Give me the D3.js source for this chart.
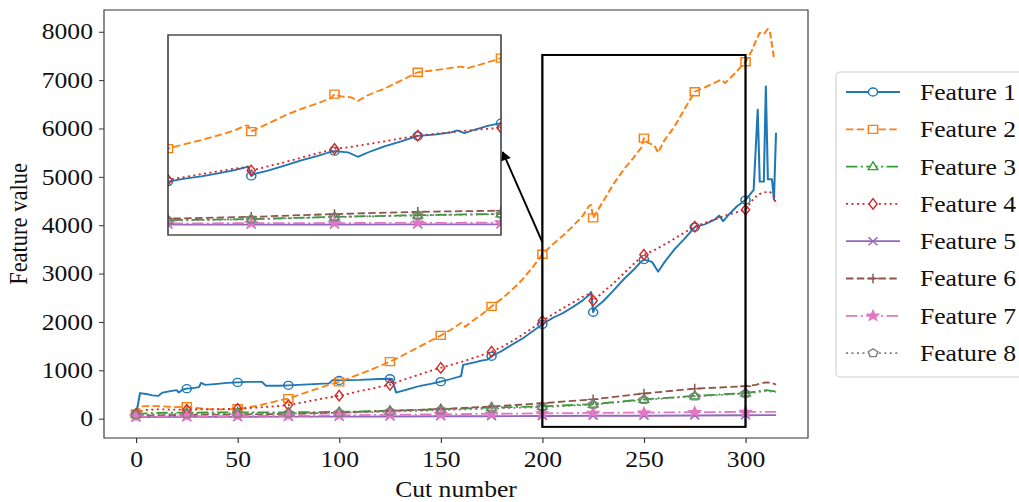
<!DOCTYPE html>
<html>
<head>
<meta charset="utf-8">
<script src="https://cdn.jsdelivr.net/npm/d3@7"></script>
<style>
  body { margin: 0; background: #fff; }
  svg { display: block; }
  text { font-family: "Liberation Serif", "Times New Roman", serif; }
</style>
</head>
<body>
<div id="chart"></div>
<script>
// Series values, as [cut number, feature value]
const feature1 = [[0,100],[1,300],[2,530],[5,510],[8,480],[11,470],[13,540],[17,570],[20,590],[21,540],[23,600],[25,620],[28,630],[31,650],[32,740],[34,700],[40,720],[45,740],[50,750],[55,760],[62,760],[64,680],[70,680],[75,690],[80,700],[85,710],[90,720],[95,730],[97,800],[100,790],[110,800],[120,820],[125,825],[126,820],[128,540],[135,620],[140,680],[145,720],[150,765],[155,820],[160,880],[161,1110],[165,1150],[170,1200],[173,1220],[175,1290],[180,1400],[185,1530],[190,1650],[195,1800],[200,1950],[205,2080],[210,2180],[215,2310],[220,2450],[223,2560],[224,2620],[225,2200],[226,2290],[230,2430],[235,2650],[240,2880],[245,3080],[248,3220],[250,3290],[254,3240],[257,3040],[260,3230],[265,3500],[270,3720],[275,3960],[280,4020],[285,4120],[287,4200],[289,4080],[292,4230],[296,4400],[300,4520],[304,4730],[306,6390],[307,4900],[309,4900],[310,6870],[311,4950],[313,4950],[314,4530],[315,5910]];
const feature2 = [[0,100],[2,250],[5,260],[10,260],[15,250],[20,240],[25,250],[30,220],[35,200],[40,190],[45,190],[50,205],[55,230],[60,270],[65,320],[70,370],[75,415],[80,490],[85,560],[90,630],[95,700],[100,760],[105,840],[110,920],[115,1000],[120,1090],[125,1180],[130,1280],[135,1390],[140,1500],[145,1610],[150,1720],[155,1840],[160,1980],[162,1900],[165,2000],[170,2150],[175,2320],[180,2480],[185,2660],[190,2870],[195,3120],[200,3400],[205,3600],[210,3780],[215,3980],[220,4200],[223,4400],[224,4420],[225,4150],[230,4500],[235,4850],[240,5150],[245,5400],[249,5620],[250,5800],[252,5700],[255,5660],[257,5500],[260,5750],[265,6040],[270,6400],[275,6760],[280,6850],[285,6950],[288,7010],[290,6940],[295,7150],[300,7380],[303,7600],[305,7800],[307,7980],[309,7950],[311,8060],[312,8000],[314,7460]];
const feature3 = [[0,100],[10,120],[25,125],[50,130],[75,130],[100,140],[125,165],[150,195],[175,230],[200,255],[225,300],[250,400],[275,470],[300,530],[310,590],[315,560]];
const feature4 = [[0,100],[2,150],[5,180],[10,190],[15,190],[20,185],[25,186],[30,190],[40,195],[50,205],[55,215],[60,230],[65,245],[70,260],[75,280],[80,320],[85,360],[90,400],[95,440],[100,475],[105,520],[110,570],[115,610],[120,660],[125,700],[130,780],[135,850],[140,920],[145,990],[150,1050],[155,1110],[160,1170],[165,1240],[170,1310],[175,1385],[180,1480],[185,1600],[190,1730],[195,1870],[200,2025],[205,2150],[210,2280],[215,2400],[220,2520],[224,2600],[225,2440],[230,2620],[235,2800],[240,3000],[245,3200],[250,3390],[255,3480],[260,3600],[265,3720],[270,3850],[275,3970],[280,4050],[285,4120],[290,4200],[295,4260],[300,4320],[303,4500],[306,4630],[309,4680],[312,4690],[314,4600],[315,4420]];
const feature5 = [[0,30],[25,35],[50,35],[75,40],[100,40],[125,45],[150,50],[175,50],[200,55],[225,60],[250,60],[275,65],[300,70],[315,75]];
const feature6 = [[0,60],[25,80],[50,85],[75,95],[100,125],[125,160],[150,200],[175,250],[200,320],[225,400],[250,520],[275,620],[300,670],[305,700],[310,750],[313,745],[315,700]];
const feature7 = [[0,40],[25,50],[50,55],[75,60],[100,70],[125,80],[150,90],[175,100],[200,110],[225,120],[250,125],[275,135],[300,140],[315,140]];
const feature8 = [[0,80],[25,100],[50,105],[75,110],[100,120],[125,145],[150,175],[175,210],[200,240],[225,290],[250,390],[275,460],[300,520],[310,570],[315,550]];

const seriesNames = ["Feature 1","Feature 2","Feature 3","Feature 4","Feature 5","Feature 6","Feature 7","Feature 8"];
const xTicks = [0, 50, 100, 150, 200, 250, 300];
const yTicks = [0, 1000, 2000, 3000, 4000, 5000, 6000, 7000, 8000];
const zoomX = [200, 300];       // region shown in the inset
const zoomY = [-170, 7520];     // rectangle drawn on the main plot
const markEvery = 25;

// styles
const colors = ["#1f77b4","#ff7f0e","#2ca02c","#d62728","#9467bd","#8c564b","#e377c2","#7f7f7f"];
const dashes = [null, "6.5,3", "10,3,1.8,3", "1.8,3", null, "6.5,3", "10,3,1.8,3", "1.8,3"];
const shapes = ["circle","square","triangle","diamond","x","plus","star","pentagon"];
const allSeries = [feature1, feature2, feature3, feature4, feature5, feature6, feature7, feature8];
const lw = 1.8, mr = 4;

// the picture is stretched a little horizontally
const S = 1.14, W = 1019, H = 502;
const svg = d3.select("#chart").append("svg")
  .attr("width", W).attr("height", H)
  .attr("viewBox", `0 0 ${W / S} ${H}`)
  .attr("preserveAspectRatio", "none");

const plot = { left: 104 / S, right: 808 / S, top: 10, bottom: 438 };
const x = d3.scaleLinear().domain([-15.75, 330.75]).range([plot.left, plot.right]);
const y = d3.scaleLinear().domain([-400, 8450]).range([plot.bottom, plot.top]);

const defs = svg.append("defs");
defs.append("clipPath").attr("id", "clip-main").append("rect")
  .attr("x", plot.left).attr("y", plot.top)
  .attr("width", plot.right - plot.left).attr("height", plot.bottom - plot.top);

function markerPath(shape, r) {
  switch (shape) {
    case "circle": return d3.symbol(d3.symbolCircle, Math.PI * r * r)();
    case "square": return `M${-r},${-r}H${r}V${r}H${-r}Z`;
    case "triangle": return `M0,${-r * 1.2}L${r * 1.05},${r * 0.75}L${-r * 1.05},${r * 0.75}Z`;
    case "diamond": return `M0,${-r * 1.3}L${r * 0.9},0L0,${r * 1.3}L${-r * 0.9},0Z`;
    case "x": return `M${-r},${-r}L${r},${r}M${-r},${r}L${r},${-r}`;
    case "plus": return `M${-r * 1.2},0H${r * 1.2}M0,${-r * 1.2}V${r * 1.2}`;
    case "star": {
      const pts = d3.range(10).map(i => {
        const a = -Math.PI / 2 + i * Math.PI / 5, rr = i % 2 ? r * 0.55 : r * 1.3;
        return [rr * Math.cos(a), rr * Math.sin(a)];
      });
      return "M" + pts.join("L") + "Z";
    }
    case "pentagon": {
      const pts = d3.range(5).map(i => {
        const a = -Math.PI / 2 + i * 2 * Math.PI / 5;
        return [r * 1.1 * Math.cos(a), r * 1.1 * Math.sin(a)];
      });
      return "M" + pts.join("L") + "Z";
    }
  }
}

function drawSeries(g, xs, ys, lo, hi) {
  const line = d3.line().x(d => xs(d[0])).y(d => ys(d[1]));
  allSeries.forEach((data, i) => {
    g.append("path")
      .datum(data)
      .attr("d", line)
      .attr("fill", "none")
      .attr("stroke", colors[i])
      .attr("stroke-width", lw)
      .attr("stroke-linejoin", "round")
      .attr("stroke-dasharray", dashes[i]);
  });
  allSeries.forEach((data, i) => {
    g.selectAll(null)
      .data(data.filter(d => d[0] % markEvery === 0 && d[0] >= lo && d[0] <= hi))
      .enter().append("path")
      .attr("transform", d => `translate(${xs(d[0])},${ys(d[1])})`)
      .attr("d", markerPath(shapes[i], mr))
      .attr("fill", shapes[i] === "star" ? colors[i] : "none")
      .attr("stroke", colors[i])
      .attr("stroke-width", 1.3);
  });
}

// main lines
const main = svg.append("g").attr("clip-path", "url(#clip-main)");
drawSeries(main, x, y, 0, 300);

// axes
const gx = svg.append("g")
  .attr("transform", `translate(0,${plot.bottom})`)
  .call(d3.axisBottom(x).tickValues(xTicks).tickSize(5).tickPadding(8).tickFormat(d3.format("d")));
gx.select(".domain").remove();
const gy = svg.append("g")
  .attr("transform", `translate(${plot.left},0)`)
  .call(d3.axisLeft(y).tickValues(yTicks).tickSize(5 / S).tickPadding(6 / S).tickFormat(d3.format("d")));
gy.select(".domain").remove();
[gx, gy].forEach(g => {
  g.attr("font-size", 22.5).attr("font-family", null).attr("color", "#111");
  g.selectAll("line").attr("stroke", "#333");
});

svg.append("rect")
  .attr("x", plot.left).attr("y", plot.top)
  .attr("width", plot.right - plot.left).attr("height", plot.bottom - plot.top)
  .attr("fill", "none").attr("stroke", "#333").attr("stroke-width", 1);

svg.append("text")
  .attr("x", (plot.left + plot.right) / 2).attr("y", 497)
  .attr("text-anchor", "middle").attr("font-size", 22.5).attr("fill", "#111")
  .text("Cut number");
svg.append("text")
  .attr("transform", `translate(${27 / S},${(plot.top + plot.bottom) / 2}) rotate(-90)`)
  .attr("text-anchor", "middle").attr("font-size", 22.5).attr("fill", "#111")
  .text("Feature value");

// zoom rectangle on the main plot
svg.append("rect")
  .attr("x", x(zoomX[0])).attr("y", y(zoomY[1]))
  .attr("width", x(zoomX[1]) - x(zoomX[0])).attr("height", y(zoomY[0]) - y(zoomY[1]))
  .attr("fill", "none").attr("stroke", "#000").attr("stroke-width", 2);

// inset
const inset = { left: 168 / S, right: 501 / S, top: 35, bottom: 235 };
const xi = d3.scaleLinear().domain(zoomX).range([inset.left, inset.right]);
const yi = d3.scaleLinear().domain([-400, 8400]).range([inset.bottom, inset.top]);
defs.append("clipPath").attr("id", "clip-inset").append("rect")
  .attr("x", inset.left).attr("y", inset.top)
  .attr("width", inset.right - inset.left).attr("height", inset.bottom - inset.top);
svg.append("rect")
  .attr("x", inset.left).attr("y", inset.top)
  .attr("width", inset.right - inset.left).attr("height", inset.bottom - inset.top)
  .attr("fill", "#fff");
const ig = svg.append("g").attr("clip-path", "url(#clip-inset)");
drawSeries(ig, xi, yi, zoomX[0], zoomX[1]);
svg.append("rect")
  .attr("x", inset.left).attr("y", inset.top)
  .attr("width", inset.right - inset.left).attr("height", inset.bottom - inset.top)
  .attr("fill", "none").attr("stroke", "#333").attr("stroke-width", 1.3);

// arrow from the rectangle to the inset
defs.append("marker").attr("id", "arrow")
  .attr("viewBox", "0 0 10 10").attr("refX", 9).attr("refY", 5)
  .attr("markerWidth", 11).attr("markerHeight", 9)
  .attr("markerUnits", "userSpaceOnUse").attr("orient", "auto")
  .append("path").attr("d", "M0,0L10,5L0,10Z").attr("fill", "#000");
svg.append("line")
  .attr("x1", x(200)).attr("y1", y(3650))
  .attr("x2", xi(300) + 1.5).attr("y2", yi(3250))
  .attr("stroke", "#000").attr("stroke-width", 1.7)
  .attr("marker-end", "url(#arrow)");

// legend
const lg = svg.append("g");
lg.append("rect")
  .attr("x", 836 / S).attr("y", 72)
  .attr("width", 200 / S).attr("height", 305)
  .attr("rx", 4).attr("fill", "#fff").attr("stroke", "#d0d0d0").attr("stroke-width", 1);
seriesNames.forEach((name, i) => {
  const cy = 92 + i * 37.3;
  lg.append("line")
    .attr("x1", 846 / S).attr("x2", 900 / S).attr("y1", cy).attr("y2", cy)
    .attr("stroke", colors[i]).attr("stroke-width", lw)
    .attr("stroke-dasharray", dashes[i]);
  lg.append("path")
    .attr("transform", `translate(${873 / S},${cy})`)
    .attr("d", markerPath(shapes[i], mr))
    .attr("fill", shapes[i] === "star" ? colors[i] : "#fff")
    .attr("stroke", colors[i]).attr("stroke-width", 1.3);
  lg.append("text")
    .attr("x", 920 / S).attr("y", cy + 8)
    .attr("font-size", 22.5).attr("fill", "#111")
    .text(name);
});
</script>
</body>
</html>
